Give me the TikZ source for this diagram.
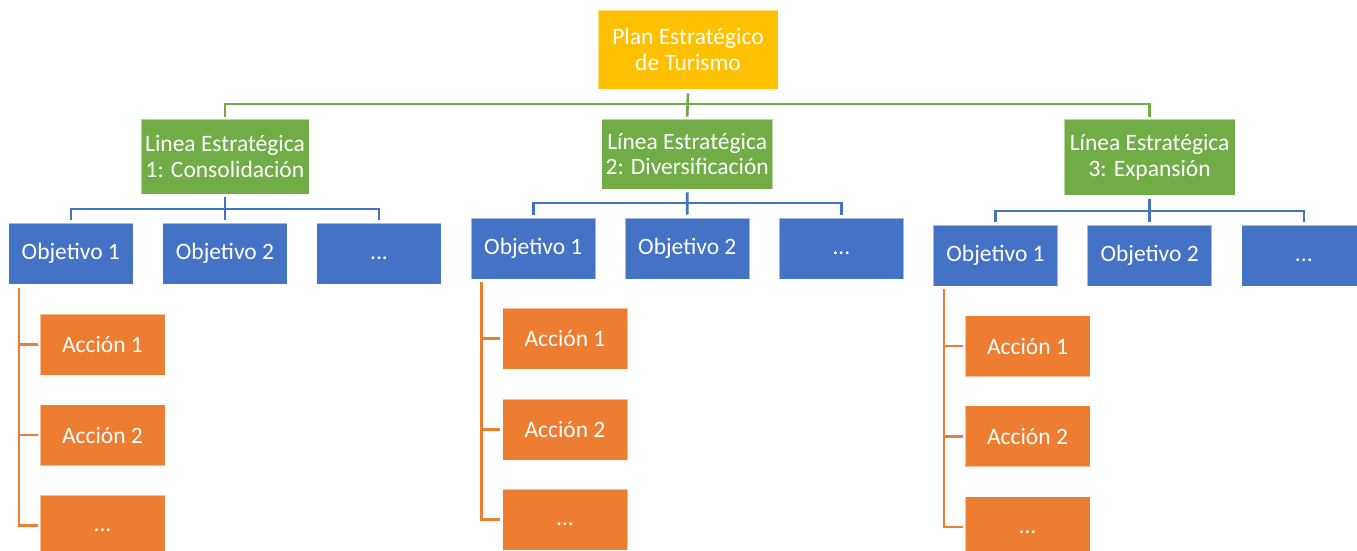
\documentclass[tikz,border=0pt]{standalone}
\usepackage{fontspec}
\setmainfont{Carlito}
\definecolor{cyellow}{HTML}{FFC000}
\definecolor{cgreen}{HTML}{70AD47}
\definecolor{cblue}{HTML}{4472C4}
\definecolor{corange}{HTML}{ED7D31}
\newcommand{\dotsbox}{\vphantom{Objetivo}...}
\begin{document}
\begin{tikzpicture}[x=1pt,y=-1pt,
  box/.style={draw=white,draw opacity=0.5,line width=0.8pt,text=white,align=center,inner sep=0pt,
    font=\fontsize{23.5}{25.5}\selectfont},
  ybox/.style={box,fill=cyellow,minimum width=180pt,minimum height=79pt},
  gbox/.style={box,fill=cgreen},
  bbox/.style={box,fill=cblue,minimum width=124.5pt,minimum height=61pt},
  obox/.style={box,fill=corange,minimum width=125pt,minimum height=61pt},
  gline/.style={draw=cgreen,line width=2.6pt},
  bline/.style={draw=cblue,line width=2.6pt},
  oline/.style={draw=corange,line width=2.6pt}]
\useasboundingbox[fill=white] (0,0) rectangle (1357,551);

% top
\node[ybox] (Y) at (688,49.5) {Plan Estratégico\\de Turismo};

% strategic lines
\node[gbox,minimum width=168pt,minimum height=75pt] (G1) at (225,156.5) {Linea Estratégica\\1: Consolidación};
\node[gbox,minimum width=171pt,minimum height=70pt] (G2) at (687.2,154) {Línea Estratégica\\2: Diversificación};
\node[gbox,minimum width=171pt,minimum height=76pt] (G3) at (1149.6,157.3) {Línea Estratégica\\3: Expansión};

% objectives
\node[bbox] (B11) at (70.8,253.6) {Objetivo 1};
\node[bbox] (B12) at (225,253.6) {Objetivo 2};
\node[bbox] (B13) at (379,253.6) {\dotsbox};
\node[bbox] (B21) at (533.3,248.5) {Objetivo 1};
\node[bbox] (B22) at (687.3,248.5) {Objetivo 2};
\node[bbox] (B23) at (841.4,248.5) {\dotsbox};
\node[bbox] (B31) at (995.5,255.4) {Objetivo 1};
\node[bbox] (B32) at (1149.6,255.4) {Objetivo 2};
\node[bbox] (B33) at (1303.8,255.4) {\dotsbox};

% actions
\node[obox] (A11) at (102.5,344.5) {Acción 1};
\node[obox] (A12) at (102.5,435) {Acción 2};
\node[obox] (A13) at (102.5,525.5) {\dotsbox};
\node[obox] (A21) at (565,338.5) {Acción 1};
\node[obox] (A22) at (565,429.5) {Acción 2};
\node[obox] (A23) at (565,519.5) {\dotsbox};
\node[obox] (A31) at (1027.5,346) {Acción 1};
\node[obox] (A32) at (1027.5,436.3) {Acción 2};
\node[obox] (A33) at (1027.5,527) {\dotsbox};

% green connectors
\coordinate (gbus) at (0,104);
\draw[gline] ([yshift=-4pt]Y.south) -- ([yshift=2pt]G2.north);
\draw[gline] ([yshift=2pt]G1.north) -- (G1.north |- gbus) -- (G3.north |- gbus) -- ([yshift=2pt]G3.north);

% blue connectors
\coordinate (b1bus) at (0,209);
\draw[bline] ([yshift=-3pt]G1.south) -- ([yshift=3pt]B12.north);
\draw[bline] ([yshift=3pt]B11.north) -- (B11.north |- b1bus) -- (B13.north |- b1bus) -- ([yshift=3pt]B13.north);
\coordinate (b2bus) at (0,203);
\draw[bline] ([yshift=-3pt]G2.south) -- ([yshift=3pt]B22.north);
\draw[bline] ([yshift=3pt]B21.north) -- (B21.north |- b2bus) -- (B23.north |- b2bus) -- ([yshift=3pt]B23.north);
\coordinate (b3bus) at (0,211);
\draw[bline] ([yshift=-3pt]G3.south) -- ([yshift=3pt]B32.north);
\draw[bline] ([yshift=3pt]B31.north) -- (B31.north |- b3bus) -- (B33.north |- b3bus) -- ([yshift=3pt]B33.north);

% orange connectors
\coordinate (o1) at ([xshift=11pt,yshift=-3pt]B11.south west);
\draw[oline] (o1) |- ([xshift=-2pt]A13.west);
\draw[oline] (o1 |- A11.west) -- ([xshift=-2pt]A11.west);
\draw[oline] (o1 |- A12.west) -- ([xshift=-2pt]A12.west);
\coordinate (o2) at ([xshift=11pt,yshift=-3pt]B21.south west);
\draw[oline] (o2) |- ([xshift=-2pt]A23.west);
\draw[oline] (o2 |- A21.west) -- ([xshift=-2pt]A21.west);
\draw[oline] (o2 |- A22.west) -- ([xshift=-2pt]A22.west);
\coordinate (o3) at ([xshift=11pt,yshift=-3pt]B31.south west);
\draw[oline] (o3) |- ([xshift=-2pt]A33.west);
\draw[oline] (o3 |- A31.west) -- ([xshift=-2pt]A31.west);
\draw[oline] (o3 |- A32.west) -- ([xshift=-2pt]A32.west);
\end{tikzpicture}
\end{document}
